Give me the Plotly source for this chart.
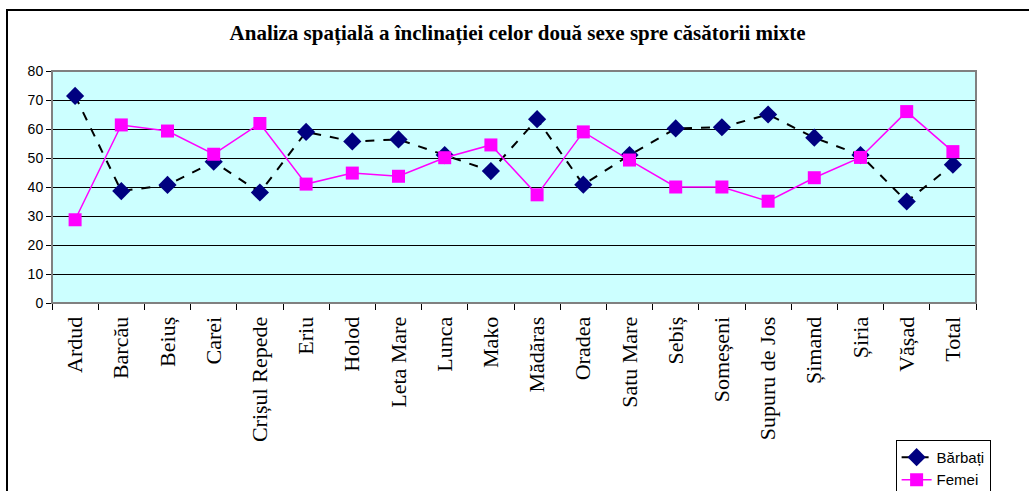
import plotly.graph_objects as go

categories = ["Ardud", "Barcău", "Beiuș", "Carei", "Crișul Repede", "Eriu", "Holod",
              "Leta Mare", "Lunca", "Mako", "Mădăras", "Oradea", "Satu Mare", "Sebiș",
              "Someșeni", "Supuru de Jos", "Șimand", "Șiria", "Vășad", "Total"]
barbati = [71.4, 38.6, 40.7, 48.7, 38.1, 59.0, 55.7, 56.4, 51.0, 45.5,
           63.4, 40.8, 51.0, 60.2, 60.6, 65.0, 57.0, 51.0, 35.0, 47.7]
femei = [28.7, 61.4, 59.3, 51.3, 61.9, 41.0, 44.8, 43.7, 50.1, 54.5,
         37.3, 59.0, 49.3, 40.0, 40.0, 35.1, 43.2, 50.2, 66.0, 52.2]
y_ticks = [0, 10, 20, 30, 40, 50, 60, 70, 80]

fig = go.Figure()
fig.add_trace(go.Scatter(
    x=categories, y=barbati, name="Bărbați", mode="lines+markers",
    line=dict(color="black", width=2, dash="dash"),
    marker=dict(symbol="diamond", size=14, color="#000080"),
))
fig.add_trace(go.Scatter(
    x=categories, y=femei, name="Femei", mode="lines+markers",
    line=dict(color="#FF00FF", width=1.5),
    marker=dict(symbol="square", size=13, color="#FF00FF"),
))

fig.update_layout(
    width=1029, height=491, autosize=False,
    margin=dict(l=52, r=53, t=71, b=188, autoexpand=False),
    paper_bgcolor="white",
    plot_bgcolor="#CCFFFF",
    title=dict(
        text="<b>Analiza spațială a înclinației celor două sexe spre căsătorii mixte</b>",
        x=0.503, xanchor="center", y=0.933, yanchor="middle",
        font=dict(family="Liberation Serif", size=21, color="black"),
    ),
    showlegend=True,
    legend=dict(
        x=0.913, xanchor="left", y=-0.59, yanchor="top",
        bordercolor="black", borderwidth=1, bgcolor="white",
        font=dict(family="Liberation Sans", size=15, color="black"),
        tracegroupgap=0, entrywidth=150, entrywidthmode="pixels",
    ),
    xaxis=dict(
        type="category", tickangle=-90, ticks="outside", ticklen=6,
        tickson="boundaries", tickcolor="black", showgrid=False, automargin=False,
        showline=True, linecolor="black", linewidth=1, ticklabelstandoff=4,
        tickfont=dict(family="Liberation Serif", size=22, color="black"),
        range=[-0.5, len(categories) - 0.5],
    ),
    yaxis=dict(
        range=[0, 80], tickvals=y_ticks, ticks="outside", ticklen=5, automargin=False,
        tickcolor="black", showgrid=True, gridcolor="black", gridwidth=1,
        showline=True, linecolor="black", linewidth=1, zeroline=False,
        tickfont=dict(family="Liberation Sans", size=14, color="black"),
    ),
)

# plot area border (grey) and outer chart border
fig.add_shape(type="rect", xref="paper", yref="paper", x0=0, y0=0, x1=1, y1=1,
              line=dict(color="#808080", width=2), layer="above")
fig.add_shape(type="rect", xref="paper", yref="paper", x0=-0.0487, y0=-0.95, x1=1.2, y1=1.263,
              line=dict(color="black", width=2), layer="below")

fig.write_html("out.html", config={"responsive": False, "displayModeBar": False},
               post_script="document.body.style.margin='0';")
